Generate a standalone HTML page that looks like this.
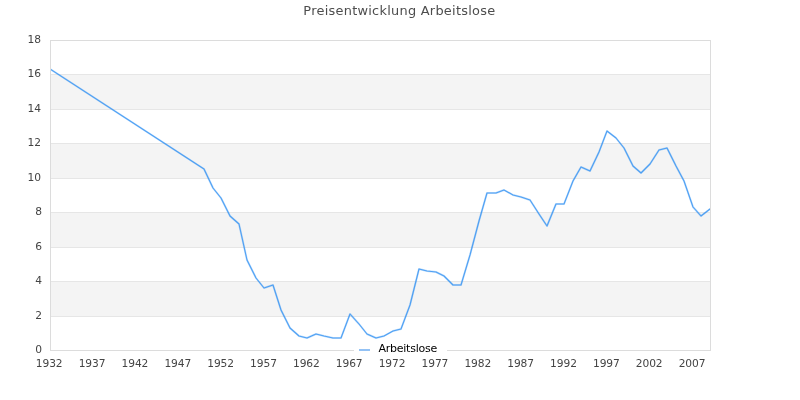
<!DOCTYPE html>
<html lang="de"><head><meta charset="utf-8"><title>Preisentwicklung Arbeitslose</title>
<style>html,body{margin:0;padding:0;background:#fff;overflow:hidden}svg{display:block}svg{will-change:transform}text{font-family:"DejaVu Sans","Liberation Sans",sans-serif}</style></head><body>
<svg width="800" height="400" viewBox="0 0 800 400">
<rect width="800" height="400" fill="#fff"/>
<rect x="50" y="74" width="660" height="35" fill="#f4f4f4"/>
<rect x="50" y="143" width="660" height="35" fill="#f4f4f4"/>
<rect x="50" y="212" width="660" height="35" fill="#f4f4f4"/>
<rect x="50" y="281" width="660" height="35" fill="#f4f4f4"/>
<line x1="50" x2="710" y1="316.5" y2="316.5" stroke="#e6e6e6" stroke-width="1"/>
<line x1="50" x2="710" y1="281.5" y2="281.5" stroke="#e6e6e6" stroke-width="1"/>
<line x1="50" x2="710" y1="247.5" y2="247.5" stroke="#e6e6e6" stroke-width="1"/>
<line x1="50" x2="710" y1="212.5" y2="212.5" stroke="#e6e6e6" stroke-width="1"/>
<line x1="50" x2="710" y1="178.5" y2="178.5" stroke="#e6e6e6" stroke-width="1"/>
<line x1="50" x2="710" y1="143.5" y2="143.5" stroke="#e6e6e6" stroke-width="1"/>
<line x1="50" x2="710" y1="109.5" y2="109.5" stroke="#e6e6e6" stroke-width="1"/>
<line x1="50" x2="710" y1="74.5" y2="74.5" stroke="#e6e6e6" stroke-width="1"/>
<rect x="50.5" y="40.5" width="660" height="310" fill="none" stroke="#dcdcdc" stroke-width="1"/>
<clipPath id="c"><rect x="51" y="41" width="659" height="309"/></clipPath>
<g clip-path="url(#c)" fill="none" stroke="#3291f2" stroke-linejoin="round" stroke-linecap="round">
<polyline points="50,69 204,169 213,188 221,198 230,216 239,224 247,260 256,278 264,288 273,285 281,310 290,328 299,336 307,338 316,334 324,336 333,338 341,338 350,314 359,324 367,334 376,338 384,336 393,331 401,329 410,305 419,269 427,271 436,272 444,276 453,285 461,285 470,255 479,221 487,193 496,193 504,190 513,195 521,197 530,200 539,214 547,226 556,204 564,204 573,181 581,167 590,171 599,152 607,131 616,138 624,148 633,166 641,173 650,164 659,150 667,148 676,166 684,181 693,207 701,216 710,209" stroke-width="2" stroke-opacity="0.3"/>
<polyline points="50,69 204,169 213,188 221,198 230,216 239,224 247,260 256,278 264,288 273,285 281,310 290,328 299,336 307,338 316,334 324,336 333,338 341,338 350,314 359,324 367,334 376,338 384,336 393,331 401,329 410,305 419,269 427,271 436,272 444,276 453,285 461,285 470,255 479,221 487,193 496,193 504,190 513,195 521,197 530,200 539,214 547,226 556,204 564,204 573,181 581,167 590,171 599,152 607,131 616,138 624,148 633,166 641,173 650,164 659,150 667,148 676,166 684,181 693,207 701,216 710,209" stroke-width="1.1" stroke-opacity="0.8"/>
</g>
<rect x="354" y="341" width="93" height="15" fill="#fff"/>
<rect x="359" y="349" width="11" height="2" fill="#93c2f5"/>
<text x="378.5" y="352" font-size="11" letter-spacing="-0.25" fill="#000">Arbeitslose</text>
<text x="399.4" y="15" font-size="12.9" letter-spacing="0.27" fill="#4d4d4d" text-anchor="middle">Preisentwicklung Arbeitslose</text>
<text x="42.1" y="353" font-size="10.67" fill="#444" text-anchor="end">0</text>
<text x="42.1" y="319" font-size="10.67" fill="#444" text-anchor="end">2</text>
<text x="42.1" y="284" font-size="10.67" fill="#444" text-anchor="end">4</text>
<text x="42.1" y="250" font-size="10.67" fill="#444" text-anchor="end">6</text>
<text x="42.1" y="215" font-size="10.67" fill="#444" text-anchor="end">8</text>
<text x="41.15" y="181" font-size="10.67" fill="#444" text-anchor="end">10</text>
<text x="41.15" y="146" font-size="10.67" fill="#444" text-anchor="end">12</text>
<text x="41.15" y="112" font-size="10.67" fill="#444" text-anchor="end">14</text>
<text x="41.15" y="77" font-size="10.67" fill="#444" text-anchor="end">16</text>
<text x="41.15" y="43" font-size="10.67" fill="#444" text-anchor="end">18</text>
<text x="49.20" y="367" font-size="10.67" letter-spacing="-0.1" fill="#444" text-anchor="middle">1932</text>
<text x="92.06" y="367" font-size="10.67" letter-spacing="-0.1" fill="#444" text-anchor="middle">1937</text>
<text x="134.91" y="367" font-size="10.67" letter-spacing="-0.1" fill="#444" text-anchor="middle">1942</text>
<text x="177.77" y="367" font-size="10.67" letter-spacing="-0.1" fill="#444" text-anchor="middle">1947</text>
<text x="220.63" y="367" font-size="10.67" letter-spacing="-0.1" fill="#444" text-anchor="middle">1952</text>
<text x="263.49" y="367" font-size="10.67" letter-spacing="-0.1" fill="#444" text-anchor="middle">1957</text>
<text x="306.34" y="367" font-size="10.67" letter-spacing="-0.1" fill="#444" text-anchor="middle">1962</text>
<text x="349.20" y="367" font-size="10.67" letter-spacing="-0.1" fill="#444" text-anchor="middle">1967</text>
<text x="392.06" y="367" font-size="10.67" letter-spacing="-0.1" fill="#444" text-anchor="middle">1972</text>
<text x="434.91" y="367" font-size="10.67" letter-spacing="-0.1" fill="#444" text-anchor="middle">1977</text>
<text x="477.77" y="367" font-size="10.67" letter-spacing="-0.1" fill="#444" text-anchor="middle">1982</text>
<text x="520.63" y="367" font-size="10.67" letter-spacing="-0.1" fill="#444" text-anchor="middle">1987</text>
<text x="563.49" y="367" font-size="10.67" letter-spacing="-0.1" fill="#444" text-anchor="middle">1992</text>
<text x="606.34" y="367" font-size="10.67" letter-spacing="-0.1" fill="#444" text-anchor="middle">1997</text>
<text x="649.20" y="367" font-size="10.67" letter-spacing="-0.1" fill="#444" text-anchor="middle">2002</text>
<text x="692.06" y="367" font-size="10.67" letter-spacing="-0.1" fill="#444" text-anchor="middle">2007</text>
</svg></body></html>
